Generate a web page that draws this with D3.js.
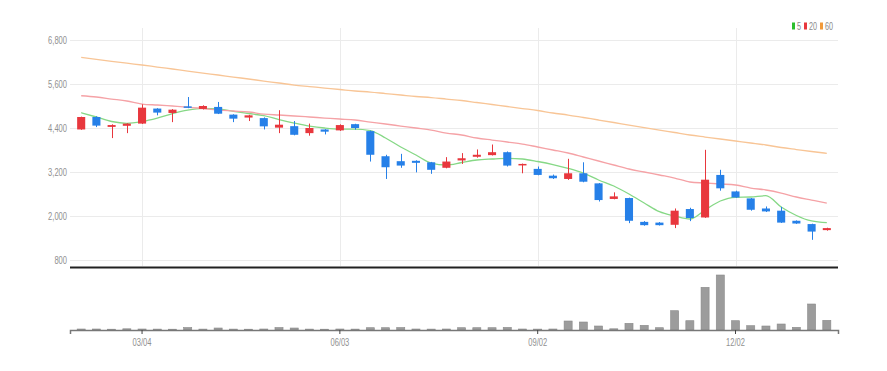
<!DOCTYPE html>
<html>
<head>
<meta charset="utf-8">
<script src="https://cdn.jsdelivr.net/npm/d3@7"></script>
<style>
  body { margin: 0; background: #fff; }
  text { font-family: "Liberation Sans", "DejaVu Sans", sans-serif; }
</style>
</head>
<body>
<svg id="chart" width="887" height="371"></svg>
<script>
// weekly candles, Feb 2024 .. Jan 2025
var dates = ["02/05","02/12","02/19","02/26","03/04","03/11","03/18","03/25","04/01","04/08",
	"04/15","04/22","04/29","05/06","05/13","05/20","05/27","06/03","06/10","06/17",
	"06/24","07/01","07/08","07/15","07/22","07/29","08/05","08/12","08/19","08/26",
	"09/02","09/09","09/16","09/23","09/30","10/07","10/14","10/21","10/28","11/04",
	"11/11","11/18","11/25","12/02","12/09","12/16","12/23","12/30","01/06","01/13"];

var open  = [4360,4700,4430,4460,4520,4930,4810,4990,4920,4975,4765,4685,4670,4410,4450,4260,4360,4335,4505,4315,
	3630,3495,3505,3465,3315,3515,3615,3660,3740,3385,3285,3100,3010,3165,2890,2465,2490,1840,1820,1760,
	2190,1960,3120,2670,2480,2205,2145,1870,1780,1615];
var high  = [4710,4720,4500,4530,5045,4940,4915,5245,5020,5110,4775,4760,4690,4885,4590,4520,4370,4500,4515,4330,
	3670,3695,3520,3475,3605,3715,3815,3950,3760,3430,3350,3130,3560,3465,2900,2645,2500,1860,1835,2205,
	2225,3805,3260,2690,2490,2260,2250,1880,1790,1680];
var low   = [4350,4425,4125,4260,4510,4745,4560,4940,4905,4780,4560,4590,4360,4260,4200,4190,4225,4320,4355,3485,
	3010,3315,3190,3150,3300,3420,3590,3650,3350,3165,3110,3010,2985,2920,2395,2455,1805,1735,1740,1670,
	1860,1950,2690,2495,2145,2110,1810,1785,1350,1600];
var close = [4700,4465,4480,4520,4955,4820,4900,4955,5000,4790,4655,4745,4445,4490,4215,4400,4300,4480,4400,3670,
	3330,3375,3450,3260,3485,3575,3670,3740,3375,3420,3120,3030,3165,2935,2435,2535,1870,1750,1750,2145,
	1945,2990,2755,2505,2170,2125,1820,1795,1575,1670];

// volume, thousands of shares
var volume = [100,100,80,120,100,90,80,250,90,200,90,80,100,250,200,90,80,100,90,230,
	230,250,100,90,100,230,230,230,260,100,90,100,900,800,400,120,670,470,230,1930,
	930,4270,5500,930,430,400,600,270,2600,970];

// moving averages
var ma5  = [4817,4700,4577,4528,4577,4672,4795,4890,4937,4918,4855,4795,4735,4631,4536,4454,4400,4372,4372,4331,
	4127,3882,3663,3445,3391,3459,3527,3554,3573,3554,3486,3404,3301,3172,2982,2818,2600,2354,2117,2000,
	1918,2164,2409,2510,2518,2553,2245,2014,1864,1817];
var ma20 = [5280,5245,5190,5136,5054,5027,5000,4972,4931,4890,4863,4836,4781,4754,4727,4700,4672,4645,4618,4563,
	4509,4454,4400,4345,4263,4209,4127,4072,4018,3963,3882,3800,3718,3609,3500,3391,3282,3200,3118,3036,
	2927,2900,2873,2845,2763,2709,2627,2518,2436,2354];
var ma60 = [6328,6273,6219,6167,6118,6063,6009,5954,5899,5845,5790,5736,5681,5627,5572,5531,5490,5450,5409,5381,
	5340,5300,5259,5231,5190,5150,5095,5041,4986,4931,4877,4809,4754,4686,4618,4550,4481,4413,4345,4277,
	4209,4154,4100,4045,3991,3936,3868,3813,3759,3710];

var yTicks = [800, 2000, 3200, 4400, 5600, 6800];
var xTicks = ["03/04", "06/03", "09/02", "12/02"];
var maNames = ["5", "20", "60"];

var UP = "#e8373d", DOWN = "#2680e8";
var maColors = ["#86d886", "#f5a2a6", "#f8c596"];
var legendColors = ["#2cbf2c", "#e8373d", "#f29a3a"];
var SQUEEZE = 0.72;   // labels in the original are horizontally condensed

var svg = d3.select("#chart");
var left = 70, right = 838;

var x = d3.scaleBand().domain(dates).range([left, right]).padding(0.47);
var y = d3.scaleLinear().domain([800, 6800]).range([260, 40]);
var yv = d3.scaleLinear().domain([0, 6000]).range([330, 270]);

var cx = function(i) { return x(dates[i]) + x.bandwidth() / 2; };

// grid
svg.append("g").selectAll("line").data(yTicks).enter().append("line")
	.attr("x1", left).attr("x2", right)
	.attr("y1", function(d) { return y(d) + 0.5; })
	.attr("y2", function(d) { return y(d) + 0.5; })
	.attr("stroke", "#ebebeb");

svg.append("g").selectAll("line").data(xTicks).enter().append("line")
	.attr("x1", function(d) { return Math.round(x(d) + x.bandwidth() / 2) + 0.5; })
	.attr("x2", function(d) { return Math.round(x(d) + x.bandwidth() / 2) + 0.5; })
	.attr("y1", 28).attr("y2", 266)
	.attr("stroke", "#ebebeb");

// y labels
svg.append("g").selectAll("text").data(yTicks).enter().append("text")
	.attr("transform", function(d) { return "translate(67," + (y(d) + 3.5) + ") scale(" + SQUEEZE + ",1)"; })
	.attr("text-anchor", "end")
	.attr("font-size", 10.5)
	.attr("fill", "#909090")
	.text(function(d) { return d3.format(",")(d); });

// moving averages
var mas = [ma5, ma20, ma60];
mas.forEach(function(arr, k) {
	var line = d3.line()
		.x(function(d, i) { return cx(i); })
		.y(function(d) { return y(d); })
		.curve(d3.curveMonotoneX);
	svg.append("path")
		.datum(arr)
		.attr("d", line)
		.attr("fill", "none")
		.attr("stroke", maColors[k])
		.attr("stroke-width", 1.3);
});

// candles
var idx = d3.range(dates.length);
var candle = svg.append("g").selectAll("g").data(idx).enter().append("g");

candle.append("line")
	.attr("x1", function(i) { return Math.round(cx(i)) + 0.5; })
	.attr("x2", function(i) { return Math.round(cx(i)) + 0.5; })
	.attr("y1", function(i) { return y(high[i]); })
	.attr("y2", function(i) { return y(low[i]); })
	.attr("stroke", function(i) { return close[i] >= open[i] ? UP : DOWN; });

candle.append("rect")
	.attr("x", function(i) { return x(dates[i]); })
	.attr("width", x.bandwidth())
	.attr("y", function(i) { return y(Math.max(open[i], close[i])); })
	.attr("height", function(i) { return Math.max(1.5, Math.abs(y(open[i]) - y(close[i]))); })
	.attr("fill", function(i) { return close[i] >= open[i] ? UP : DOWN; });

// panel separator
svg.append("line")
	.attr("x1", left).attr("x2", right)
	.attr("y1", 267.5).attr("y2", 267.5)
	.attr("stroke", "#222").attr("stroke-width", 2);

// volume
svg.append("g").selectAll("rect").data(idx).enter().append("rect")
	.attr("x", function(i) { return x(dates[i]); })
	.attr("width", x.bandwidth())
	.attr("y", function(i) { return yv(volume[i]); })
	.attr("height", function(i) { return 330 - yv(volume[i]); })
	.attr("fill", "#9c9c9c")
	.attr("stroke", "#8a8a8a")
	.attr("stroke-width", 0.6);

// x axis
var xAxis = d3.axisBottom(x).tickValues(xTicks).tickSize(4).tickPadding(5);
var ax = svg.append("g").attr("transform", "translate(0,330)").call(xAxis);
ax.select(".domain").attr("stroke", "#777").attr("stroke-width", 1.5);
ax.selectAll(".tick line").attr("stroke", "#444");
ax.selectAll(".tick text")
	.attr("transform", "scale(" + SQUEEZE + ",1)")
	.attr("x", 0)
	.attr("font-size", 10.5).attr("fill", "#909090")
	.attr("font-family", "Liberation Sans, DejaVu Sans, sans-serif");

// legend
var lg = svg.append("g").attr("transform", "translate(792,22)");
var lx = [0, 12, 28];
maNames.forEach(function(n, k) {
	lg.append("rect").attr("x", lx[k]).attr("y", 0.5).attr("width", 3).attr("height", 7)
		.attr("fill", legendColors[k]);
	lg.append("text").attr("transform", "translate(" + (lx[k] + 5) + ",7.5) scale(" + SQUEEZE + ",1)")
		.attr("font-size", 10).attr("fill", "#8a8a8a").text(n);
});
</script>
</body>
</html>
